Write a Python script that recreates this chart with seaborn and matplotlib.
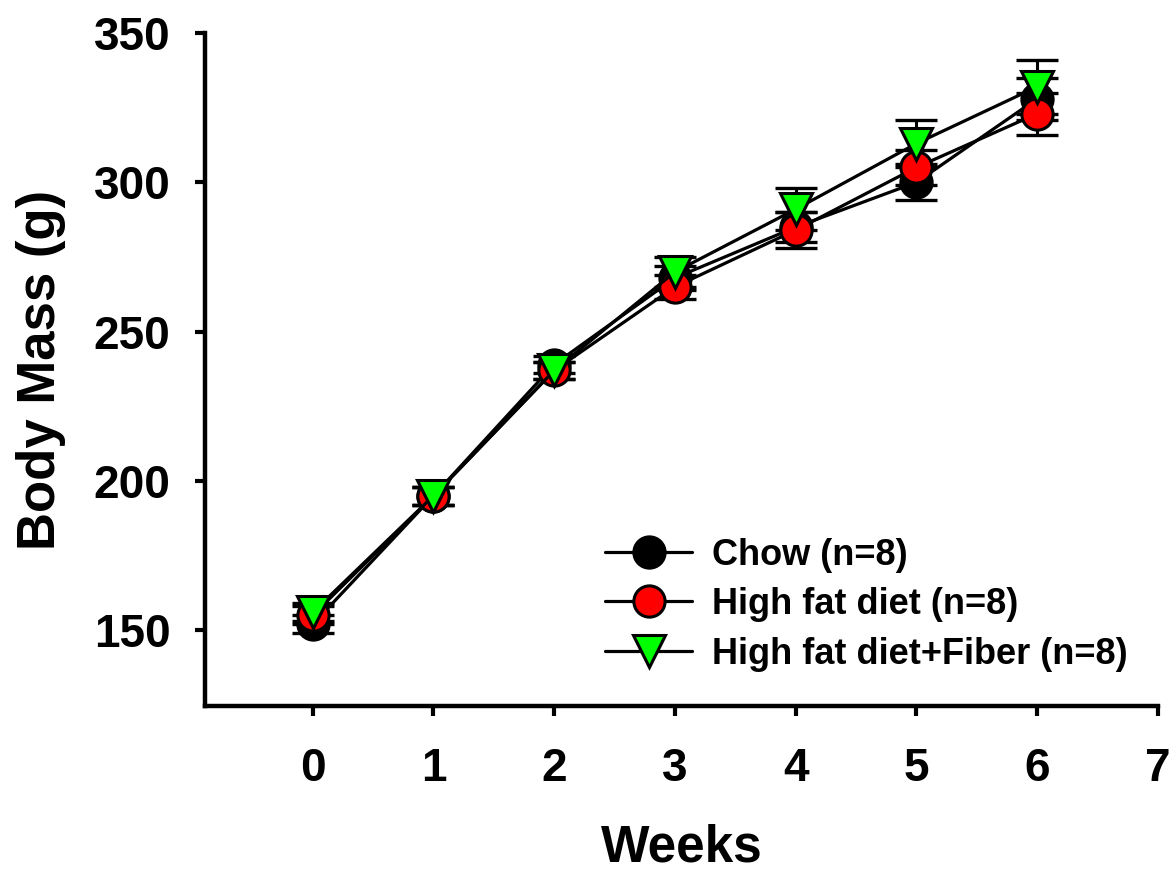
import numpy as np
import pandas as pd
import matplotlib
matplotlib.use("Agg")
import matplotlib.pyplot as plt
import seaborn as sns

weeks = [0, 1, 2, 3, 4, 5, 6]

chow_mean = [152, 195, 239, 268, 285, 300, 328]
chow_err = [3, 3, 3, 4, 5, 6, 7]

hfd_mean = [155, 195, 237, 265, 284, 305, 323]
hfd_err = [3, 3, 3, 4, 6, 6, 7]

fiber_mean = [156, 195, 237, 270, 291, 313, 332]
fiber_err = [3, 3, 3, 5, 7, 8, 9]

labels = ['Chow (n=8)', 'High fat diet (n=8)', 'High fat diet+Fiber (n=8)']

sns.set_theme(style='ticks')
plt.rcParams['font.family'] = ['Liberation Sans', 'DejaVu Sans']
plt.rcParams['font.weight'] = 'bold'
for k in ['text.color', 'axes.labelcolor', 'xtick.color', 'ytick.color', 'axes.edgecolor']:
    plt.rcParams[k] = 'black'

fig = plt.figure(figsize=(11.73, 8.71), dpi=100)
ax = fig.add_axes([0.175, 0.189, 0.812, 0.773])

series = [
    (chow_mean, chow_err, 'o', 'black', labels[0]),
    (hfd_mean, hfd_err, 'o', '#ff0000', labels[1]),
    (fiber_mean, fiber_err, 'v', '#00ff00', labels[2]),
]

for mean, err, mk, fc, lab in series:
    df = pd.DataFrame({'week': weeks, 'mass': mean})
    # error bars first, markers on top
    ax.errorbar(df['week'], df['mass'], yerr=err, fmt='none', ecolor='black',
                elinewidth=2.2, capsize=15, capthick=2.4, zorder=2)
    sns.lineplot(data=df, x='week', y='mass', ax=ax, color='black', lw=2.3,
                 marker=mk, markersize=22.5 if mk == 'o' else 23.5,
                 markerfacecolor=fc, markeredgecolor='black',
                 markeredgewidth=2.2, label=lab, zorder=3)

ax.set_xlim(-0.89, 7)
ax.set_ylim(124.5, 350)
ax.set_xticks(range(0, 8))
ax.set_yticks([150, 200, 250, 300, 350])
ax.set_xlabel('Weeks', fontsize=37, fontweight='bold', labelpad=24)
ax.set_ylabel('Body Mass (g)', fontsize=38, fontweight='bold', labelpad=20)
ax.tick_params(axis='both', labelsize=33, width=3, length=7, direction='out')
ax.tick_params(axis='x', pad=22)
ax.tick_params(axis='y', pad=18)
for lbl in ax.get_xticklabels() + ax.get_yticklabels():
    lbl.set_fontweight('bold')

for s in ['top', 'right']:
    ax.spines[s].set_visible(False)
for s in ['left', 'bottom']:
    ax.spines[s].set_linewidth(3.2)

leg = ax.legend(loc='upper left', bbox_to_anchor=(0.405, 0.272), frameon=False,
                fontsize=26, handlelength=2.4, handletextpad=0.55, labelspacing=0.4,
                borderaxespad=0)
for t in leg.get_texts():
    t.set_fontweight('bold')

fig.savefig('out.png', dpi=100)
